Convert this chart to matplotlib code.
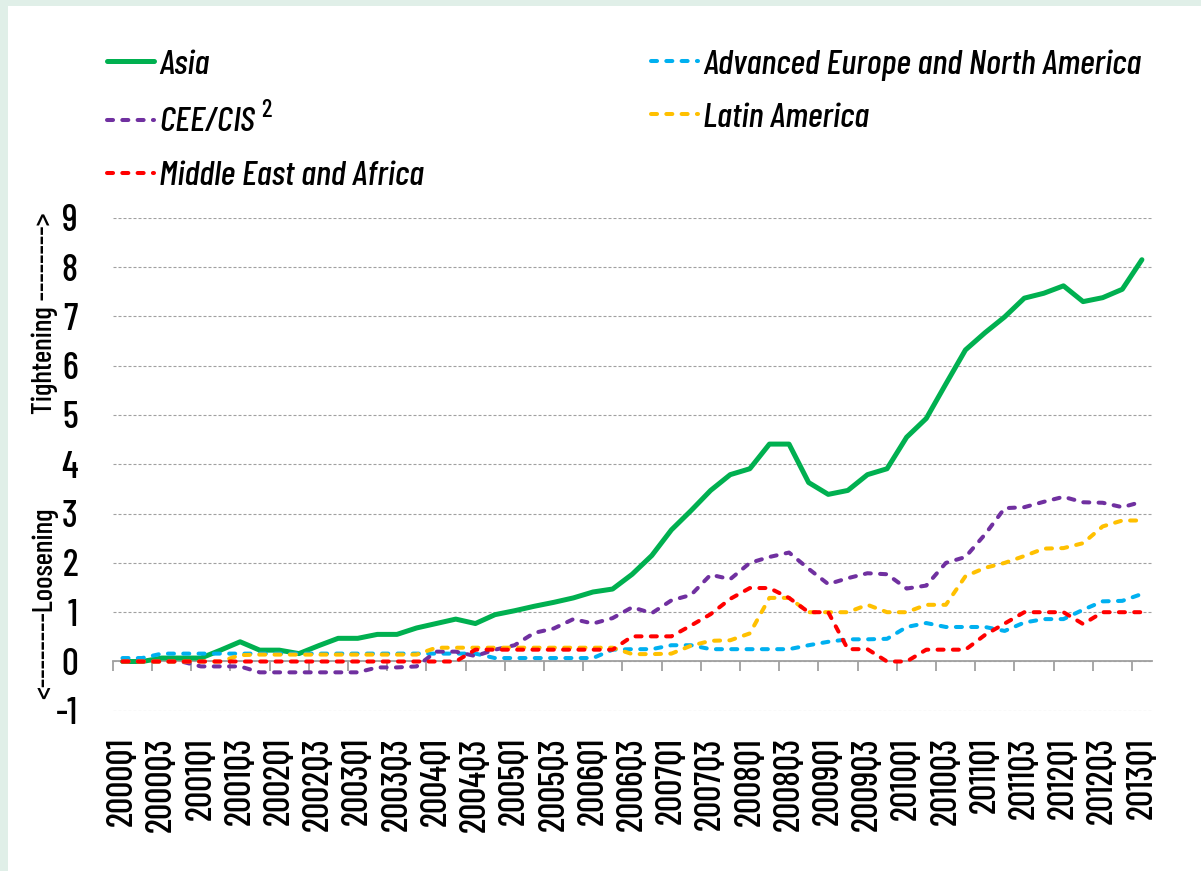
"""Monetary tightening / loosening index by region, 2000Q1-2013Q1."""

import matplotlib

matplotlib.use("Agg")
import matplotlib.pyplot as plt
from matplotlib import font_manager
from matplotlib.patches import Rectangle

installed = {f.name for f in font_manager.fontManager.ttflist}
NARROW = next((n for n in ("Barlow Condensed", "Archivo Narrow", "Asap Condensed")
               if n in installed), "Liberation Sans")

# categories: quarterly, 2000Q1 .. 2013Q1
quarters = [f"{y}Q{q}" for y in range(2000, 2014) for q in range(1, 5)][:53]

asia = [0.00, 0.00, 0.07, 0.07, 0.07, 0.23, 0.40, 0.23, 0.23, 0.16,
        0.32, 0.47, 0.47, 0.55, 0.55, 0.68, 0.77, 0.86, 0.77, 0.95,
        1.03, 1.12, 1.20, 1.29, 1.41, 1.47, 1.77, 2.15, 2.67, 3.06,
        3.47, 3.79, 3.91, 4.41, 4.41, 3.63, 3.39, 3.47, 3.79, 3.91,
        4.55, 4.93, 5.63, 6.32, 6.67, 6.99, 7.37, 7.47, 7.62, 7.30,
        7.38, 7.55, 8.15]
adv_europe_na = [0.07, 0.07, 0.16, 0.16, 0.16, 0.16, 0.16, 0.16, 0.16, 0.16,
                 0.16, 0.16, 0.16, 0.16, 0.16, 0.16, 0.16, 0.16, 0.16, 0.07,
                 0.07, 0.07, 0.07, 0.07, 0.07, 0.24, 0.25, 0.25, 0.33, 0.33,
                 0.25, 0.25, 0.25, 0.25, 0.25, 0.33, 0.40, 0.45, 0.45, 0.46,
                 0.70, 0.78, 0.70, 0.70, 0.70, 0.62, 0.79, 0.86, 0.86, 1.05,
                 1.22, 1.23, 1.37]
cee_cis = [0.00, 0.00, 0.00, 0.00, -0.10, -0.10, -0.10, -0.22, -0.22, -0.22,
           -0.22, -0.22, -0.22, -0.12, -0.12, -0.10, 0.20, 0.20, 0.11, 0.24,
           0.33, 0.58, 0.67, 0.86, 0.77, 0.88, 1.10, 0.98, 1.24, 1.35,
           1.76, 1.67, 2.00, 2.12, 2.21, 1.88, 1.57, 1.69, 1.79, 1.77,
           1.48, 1.54, 2.00, 2.12, 2.58, 3.11, 3.13, 3.24, 3.34, 3.23,
           3.22, 3.13, 3.24]
latin_america = [0.00, 0.00, 0.00, 0.00, 0.00, 0.00, 0.13, 0.14, 0.14, 0.14,
                 0.14, 0.14, 0.14, 0.14, 0.14, 0.14, 0.28, 0.28, 0.28, 0.28,
                 0.28, 0.28, 0.28, 0.28, 0.28, 0.28, 0.15, 0.15, 0.16, 0.32,
                 0.42, 0.43, 0.57, 1.29, 1.29, 1.00, 1.00, 1.00, 1.15, 1.00,
                 1.00, 1.15, 1.15, 1.73, 1.90, 2.00, 2.14, 2.29, 2.30, 2.40,
                 2.74, 2.86, 2.86]
mid_east_africa = [0.00, 0.00, 0.00, 0.00, 0.00, 0.00, 0.00, 0.00, 0.00, 0.00,
                   0.00, 0.00, 0.00, 0.00, 0.00, 0.00, 0.00, 0.00, 0.24, 0.24,
                   0.24, 0.24, 0.24, 0.24, 0.24, 0.24, 0.51, 0.51, 0.51, 0.73,
                   0.96, 1.27, 1.49, 1.49, 1.29, 1.00, 1.00, 0.25, 0.25, 0.00,
                   0.00, 0.24, 0.24, 0.24, 0.54, 0.77, 1.00, 1.00, 1.00, 0.76,
                   1.00, 1.00, 1.00]

y_ticks = list(range(-1, 10))

plt.rcParams["font.family"] = [NARROW, "DejaVu Sans"]
plt.rcParams["font.weight"] = "medium"
plt.rcParams["mathtext.fontset"] = "custom"
plt.rcParams["mathtext.rm"] = NARROW + ":medium"

W, H = 1201, 871
fig = plt.figure(figsize=(W / 100, H / 100), dpi=100, facecolor="#e0efe8")
fig.patches.append(Rectangle((8 / W, 0), 1, 1 - 6 / H, transform=fig.transFigure,
                             facecolor="white", edgecolor="none", zorder=-10))

ax = fig.add_axes([112.7 / W, 1 - 710.8 / H, 1039 / W, 493 / H])
ax.patch.set_visible(False)
ax.set_zorder(2)

dash = (0, (1.5, 2.3))
series = [
    ("Asia", asia, "#00b050", "-", 3.6),
    ("Advanced Europe and North America", adv_europe_na, "#00b0f0", dash, 2.9),
    ("CEE/CIS $^{2}$", cee_cis, "#7030a0", dash, 2.9),
    ("Latin America", latin_america, "#ffc000", dash, 2.9),
    ("Middle East and Africa", mid_east_africa, "#ff0000", dash, 2.9),
]
lines = {}
for z, (name, vals, color, ls, lw) in enumerate(series):
    (ln,) = ax.plot(quarters, vals, color=color, linestyle=ls, linewidth=lw,
                    dash_capstyle="round", solid_capstyle="round",
                    solid_joinstyle="round", label=name, zorder=3 + z)
    lines[name] = ln

ax.set_xlim(-0.5, len(quarters) - 0.5)
ax.set_ylim(-1, 9)
ax.set_yticks(y_ticks)
ax.set_yticklabels([str(t) for t in y_ticks], fontsize=27)
ax.set_xticks(range(0, len(quarters), 2))
ax.set_xticklabels(quarters[::2], rotation=90, fontsize=26, va="top")
ax.tick_params(axis="x", length=0, pad=19)
ax.tick_params(axis="y", length=0, pad=25)
ax.grid(axis="y", color="#a0a0a0", linewidth=0.8, linestyle=(0, (2.7, 1.8)))
for side in ("top", "right", "left", "bottom"):
    ax.spines[side].set_visible(False)

# zero line with tick marks between category pairs (behind the series)
ax0 = ax.twiny()
ax0.set_zorder(1)
ax0.patch.set_visible(False)
ax0.set_xlim(ax.get_xlim())
ax0.set_xticks([k - 0.5 for k in range(0, len(quarters), 2)])
ax0.set_xticklabels([])
ax0.xaxis.set_ticks_position("bottom")
ax0.spines["bottom"].set_position(("data", 0))
ax0.spines["bottom"].set_color("#a0a0a0")
ax0.spines["bottom"].set_linewidth(1.3)
ax0.tick_params(axis="x", direction="out", length=7, width=1.3, color="#a0a0a0")
for side in ("top", "right", "left"):
    ax0.spines[side].set_visible(False)

legend_font = {"family": [NARROW, "DejaVu Sans"], "style": "italic",
               "weight": "medium", "size": 25.5}
common = dict(loc="upper left", frameon=False, prop=legend_font, borderpad=0,
              borderaxespad=0, handlelength=1.33, handletextpad=0.15,
              labelspacing=0.6)
left_names = ["Asia", "CEE/CIS $^{2}$", "Middle East and Africa"]
right_names = ["Advanced Europe and North America", "Latin America"]
fig.legend([lines[n] for n in left_names], left_names,
           bbox_to_anchor=(107 / W, 1 - 49 / H), **common)
fig.legend([lines[n] for n in right_names], right_names,
           bbox_to_anchor=(651 / W, 1 - 49 / H), **common)

fig.text(45 / W, 1 - 313 / H, "Tightening -------->", rotation=90,
         ha="center", va="center", fontsize=21)
fig.text(45 / W, 1 - 603 / H, "<--------Loosening", rotation=90,
         ha="center", va="center", fontsize=21)

fig.savefig("out.png", dpi=100, facecolor=fig.get_facecolor())
